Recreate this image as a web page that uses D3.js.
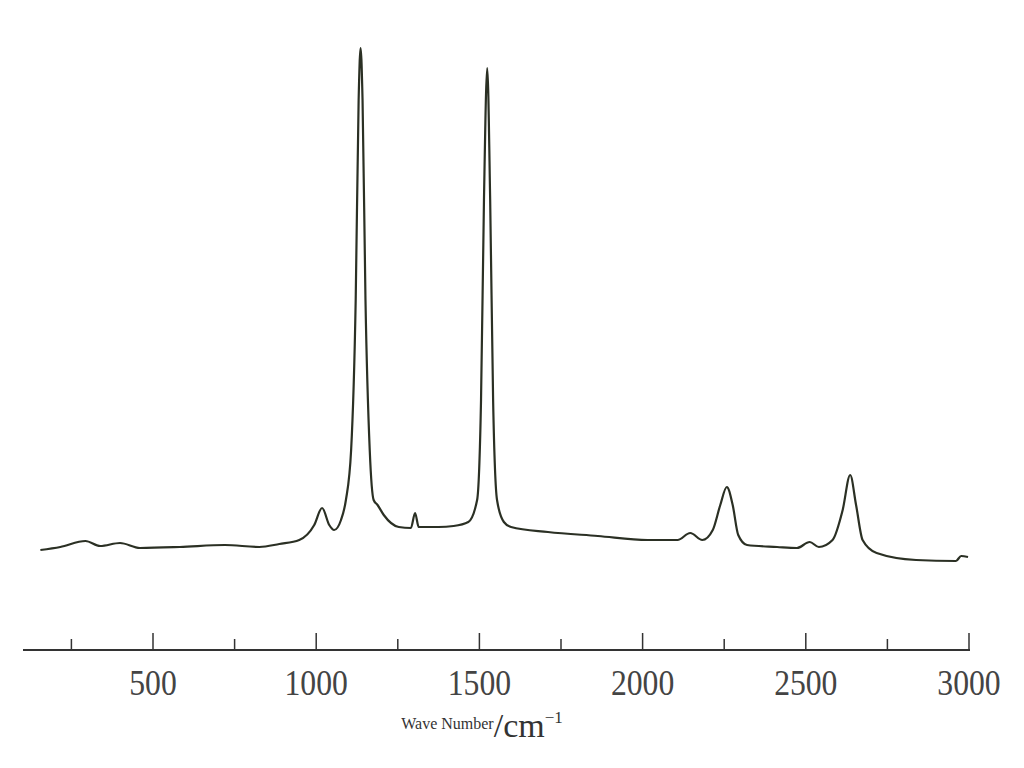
<!DOCTYPE html><html><head><meta charset="utf-8"><script src="https://cdn.jsdelivr.net/npm/d3@7"></script>
<style>body{margin:0;background:#fff}</style></head><body><svg width="1024" height="768"></svg><script>
const wave=[155,216,293,338,399,460,582,720,826,887,948,994,1018,1040,1055,1076,1091,1107,1121,1130,1136,1142,1151,1164,1176,1188,1207,1253,1290,1303,1314,1375,1421,1466,1493,1505,1514,1524,1533,1542,1554,1575,1597,1710,1863,2015,2107,2146,2183,2215,2238,2258,2276,2293,2320,2412,2473,2512,2540,2582,2613,2636,2654,2674,2717,2838,2960,2976,2997];
const intensity=[100,103,109,104,107,102,103,105,103,106,110,125,142,125,120,130,150,200,350,550,602,550,350,200,150,145,135,123,122,137,123,123,124,128,150,250,450,582,450,250,150,128,123,118,114,110,110,117,110,120,145,163,145,115,105,103,102,108,103,110,140,175,145,110,97,90,89,94,93];
const majorTicks=[500,1000,1500,2000,2500,3000];
const minorTicks=[250,750,1250,1750,2250,2750];
const svg=d3.select("svg");
const x=d3.scaleLinear().domain([500,3000]).range([153,969]);
const y=d3.scaleLinear().domain([0,600]).range([650,50]);
const g=svg.append("g").attr("transform","translate(0,650)");
g.append("line").attr("x1",23).attr("x2",970).attr("stroke","#333").attr("stroke-width",2);
g.selectAll(".M").data(majorTicks).join("line").attr("x1",d=>x(d)).attr("x2",d=>x(d)).attr("y1",0).attr("y2",-17).attr("stroke","#333").attr("stroke-width",1.5);
g.selectAll(".m").data(minorTicks).join("line").attr("x1",d=>x(d)).attr("x2",d=>x(d)).attr("y1",0).attr("y2",-11).attr("stroke","#333").attr("stroke-width",1.5);
g.selectAll("text").data(majorTicks).join("text").attr("x",d=>x(d)).attr("y",45).attr("text-anchor","middle")
 .attr("font-family","Liberation Serif").attr("font-size",36).attr("fill","#444").attr("transform",d=>`translate(${x(d)},0) scale(0.88,1) translate(${-x(d)},0)`).text(d=>d);
const t=svg.append("text").attr("x",482).attr("y",737).attr("text-anchor","middle").attr("font-family","Liberation Serif").attr("fill","#333");
t.append("tspan").attr("font-size",16).attr("dy",-8).text("Wave Number");
t.append("tspan").attr("font-size",34).attr("dy",8).text("/cm");
t.append("tspan").attr("font-size",17).attr("dy",-14).text("−1");
const line=d3.line().x((d,i)=>x(wave[i])).y(d=>y(d)).curve(d3.curveMonotoneX);
svg.append("path").datum(intensity).attr("d",line).attr("fill","none").attr("stroke","#2b3024").attr("stroke-width",2.2);
</script></body></html>
